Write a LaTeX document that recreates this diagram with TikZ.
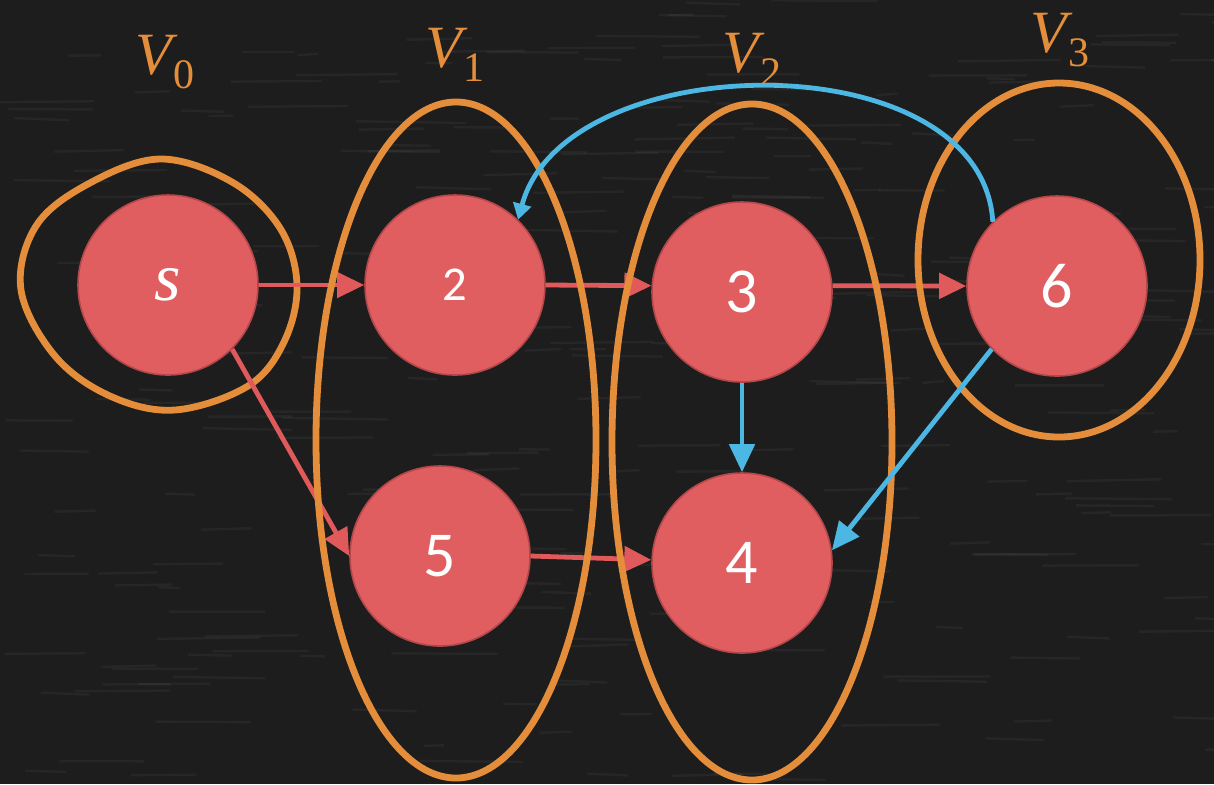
\documentclass[tikz,border=0pt]{standalone}
\usepackage{fontspec}
\setmainfont{Carlito}
\newfontfamily\labfont{Liberation Serif}
\usetikzlibrary{arrows.meta}
\definecolor{bg}{HTML}{1D1D1D}
\definecolor{nodefill}{HTML}{E15E60}
\definecolor{nodeborder}{HTML}{B4474A}
\definecolor{setorange}{HTML}{E48E3C}
\definecolor{edgered}{HTML}{E05A5C}
\definecolor{edgeblue}{HTML}{4DB7E3}
\newcommand{\setname}[1]{{\itshape V}\kern1pt\raisebox{-7pt}{\fontsize{21}{22}\selectfont #1}}
\newcommand{\lowfig}[2]{\raisebox{#1}{#2}}
\tikzset{
  vert/.style={circle, fill=nodefill, draw=nodeborder, line width=0.8pt,
    minimum size=90pt, inner sep=0pt, text=white,
    font=\fontsize{32}{34}\selectfont},
  setring/.style={draw=setorange, line width=3.4pt},
  setlabel/.style={text=setorange, font=\labfont\fontsize{30}{32}\selectfont, inner sep=0pt},
  rededge/.style={draw=edgered, line width=2.4pt,
    -{Triangle[length=13.5pt,width=12.5pt]}},
  blueedge/.style={draw=edgeblue, line width=2.4pt,
    -{Triangle[length=14pt,width=12.5pt]}},
  bluecurve/.style={draw=edgeblue, line width=2.4pt,
    -{Triangle[length=8pt,width=9pt]}}
}
\begin{document}
\begin{tikzpicture}[x=0.5pt, y=-0.5pt]
\fill[bg] (0,0) rectangle (1214,784);
\useasboundingbox (0,0) rectangle (1214,784);
% faint chalkboard texture
\pgfmathsetseed{7}
\foreach \i in {1,...,260}{
  \pgfmathsetmacro{\xa}{rnd*1214}
  \pgfmathsetmacro{\ya}{rnd*784}
  \pgfmathsetmacro{\len}{20+rnd*90}
  \draw[white, opacity=0.045, line width=1.2pt] (\xa,\ya) -- ++(\len,rnd*4-2);
}

% vertices
\node[vert] (s) at (168,285) {\labfont\itshape\fontsize{34}{36}\selectfont s};
\node[vert] (n2) at (455,285) {\lowfig{-3.5pt}{\scalebox{0.76}{2}}};
\node[vert] (n3) at (742,292) {\lowfig{-2.5pt}{3}};
\node[vert] (n6) at (1057,286) {6};
\node[vert] (n5) at (440,556) {\lowfig{-5pt}{5}};
\node[vert] (n4) at (742,563) {\lowfig{-4.5pt}{4}};

% ring of V0 (hand drawn)
\draw[setring] plot[smooth cycle, tension=0.6] coordinates {
  (160,159) (232,182) (280,228) (297,285) (284,342) (248,386)
  (175,410) (110,396) (55,356) (21,290) (36,226) (88,184)};

% red edges
\draw[rededge] (s.east) -- (n2.west);
\draw[rededge] (n2.east) -- (n3.176);
\draw[rededge] (n3.4) -- (n6.west);
\draw[rededge] (s.-45) -- (n5.west);
\draw[rededge] (n5.east) -- (n4.178);

% set rings
\draw[setring] (456,440) ellipse [x radius=70pt, y radius=169pt];
\draw[setring] (752,442) ellipse [x radius=70pt, y radius=169pt];
\draw[setring] (1059,260) ellipse [x radius=70.5pt, y radius=88.5pt];

% labels
\node[setlabel] (l0) at (165,62) {\setname{0}};
\node[setlabel] (l1) at (455,55) {\setname{1}};
\node[setlabel] (l2) at (752,60) {\setname{2}};
\node[setlabel] (l3) at (1060,40) {\setname{3}};

% blue edges
\draw[blueedge] (n3.south) -- (n4.north);
\draw[blueedge] (n6.-136) -- (n4.8);
\draw[bluecurve] (n6.135) .. controls (982,40) and (565,45) .. (n2.46);
\end{tikzpicture}
\end{document}
